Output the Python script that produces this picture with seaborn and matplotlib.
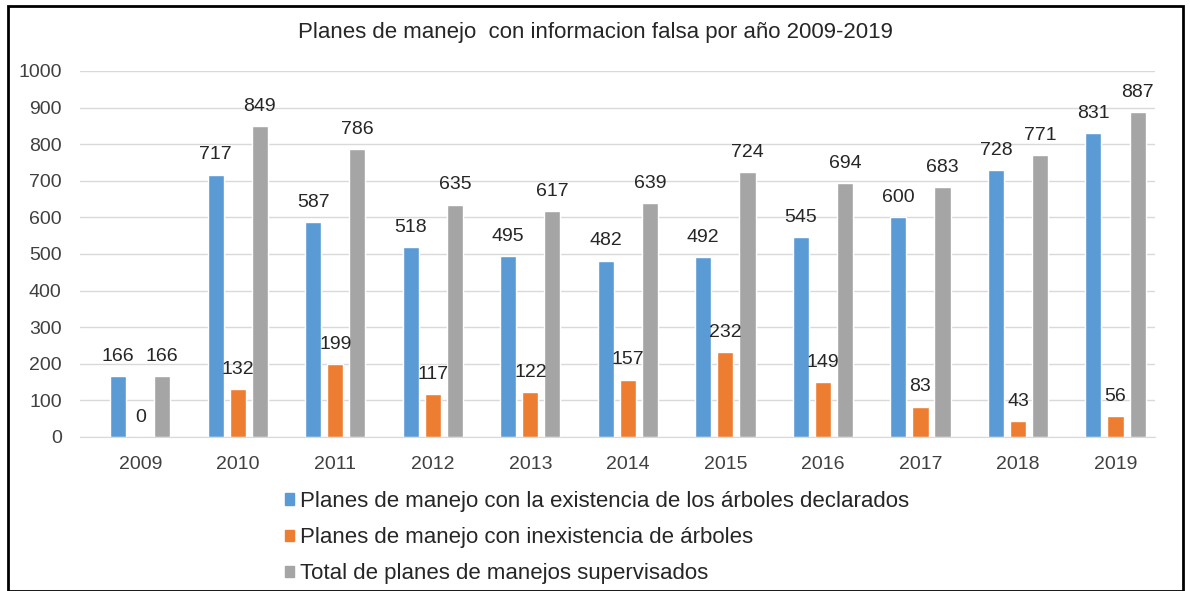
import pandas as pd
import numpy as np
import seaborn as sns
import matplotlib.pyplot as plt
from matplotlib.patches import Rectangle

# datos
anios = ['2009', '2010', '2011', '2012', '2013', '2014', '2015', '2016', '2017', '2018', '2019']
existencia = [166, 717, 587, 518, 495, 482, 492, 545, 600, 728, 831]
inexistencia = [0, 132, 199, 117, 122, 157, 232, 149, 83, 43, 56]
total = [166, 849, 786, 635, 617, 639, 724, 694, 683, 771, 887]

series = ['Planes de manejo con la existencia de los árboles declarados',
          'Planes de manejo con inexistencia de árboles',
          'Total de planes de manejos supervisados']
colores = ['#5B9BD5', '#ED7D31', '#A5A5A5']

df = pd.DataFrame({
    'anio': anios * 3,
    'valor': existencia + inexistencia + total,
    'serie': [series[0]] * 11 + [series[1]] * 11 + [series[2]] * 11,
})

sns.set_style('white')
plt.rcParams['font.family'] = ['Liberation Sans', 'DejaVu Sans']

fig = plt.figure(figsize=(11.9, 5.91), dpi=100)
ax = fig.add_axes([0.067, 0.2606, 0.904, 0.6194])

sns.barplot(data=df, x='anio', y='valor', hue='serie', palette=colores,
            saturation=1, width=0.68, gap=0.27, ax=ax, legend=False)

for cont in ax.containers:
    ax.bar_label(cont, padding=8, fontsize=14, color='#262626')

ax.set_ylim(0, 1000)
ax.set_xlim(-0.62, 10.41)
ax.set_yticks(range(0, 1001, 100))
ax.yaxis.grid(True, color='#D9D9D9', linewidth=1)
ax.set_axisbelow(True)
for s in ['top', 'right', 'left']:
    ax.spines[s].set_visible(False)
ax.spines['bottom'].set_color('#D9D9D9')
ax.tick_params(axis='both', length=0, labelsize=14, colors='#404040')
ax.tick_params(axis='y', pad=13)
ax.tick_params(axis='x', pad=14)
ax.set_xlabel('')
ax.set_ylabel('')

fig.text(0.5, 0.945, 'Planes de manejo  con informacion falsa por año 2009-2019',
         ha='center', va='center', fontsize=16, color='#262626')

handles = [Rectangle((0, 0), 1, 1, color=c) for c in colores]
fig.legend(handles, series, loc='upper left', bbox_to_anchor=(0.232, 0.184),
           frameon=False, fontsize=16, handlelength=0.42, handleheight=0.42,
           handletextpad=0.25, labelspacing=0.68, borderaxespad=0, labelcolor='#262626')

# marco negro alrededor de la figura
fig.patches.append(Rectangle((0.007, 0.0), 0.987, 0.99, transform=fig.transFigure,
                             fill=False, edgecolor='black', linewidth=2))

plt.savefig('out.png', dpi=100)
